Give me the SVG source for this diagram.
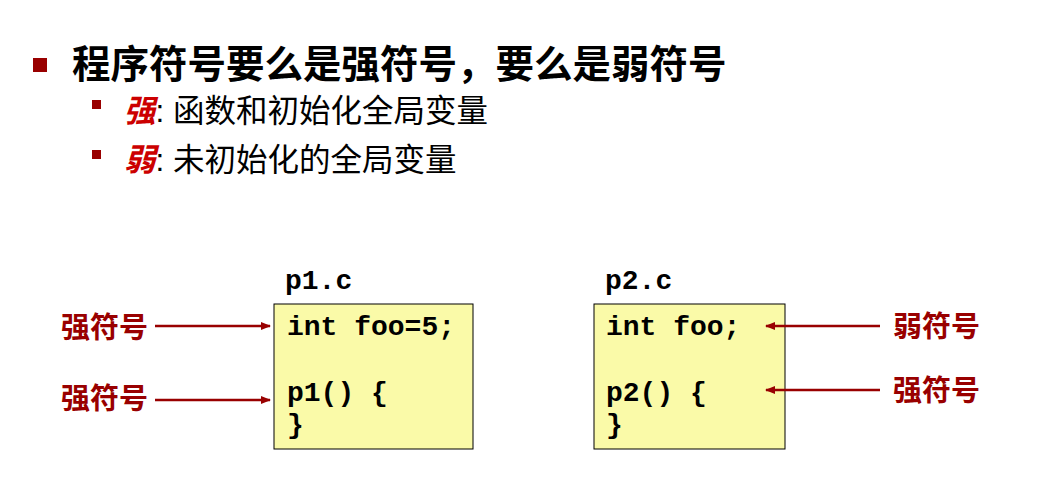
<svg xmlns="http://www.w3.org/2000/svg" width="1053" height="491" viewBox="0 0 1053 491">
<style>
.cjk{font-family:"Liberation Sans","Noto Sans CJK SC",sans-serif}
.code{font-family:"Liberation Mono",monospace;font-weight:bold;font-size:28px;fill:#000}
.lab{font-family:"Liberation Sans","Noto Sans CJK SC",sans-serif;font-weight:bold;font-size:29px;fill:#990000}
.box{fill:#fafaa8;stroke:#000;stroke-width:1}
.arr{stroke:#990000;stroke-width:2.5;fill:none;marker-end:url(#ah)}
</style>
<defs><marker id="ah" markerWidth="10" markerHeight="8" refX="9" refY="4" orient="auto" markerUnits="userSpaceOnUse"><path d="M0,0 L10,4 L0,8 z" fill="#990000"/></marker></defs>
<rect width="1053" height="491" fill="#fff"/>
<g id="text">
<rect x="33" y="58" width="14" height="14" fill="#990000"/>
<text x="72" y="78" class="cjk" font-size="38.5" font-weight="bold">程序符号要么是强符号，要么是弱符号</text>
<rect x="92" y="100" width="9" height="9" fill="#990000"/>
<text x="124" y="122" class="cjk" font-size="31.5"><tspan fill="#cc0000" font-style="italic" font-weight="bold">强</tspan>:  函数和初始化全局变量</text>
<rect x="92" y="150" width="9" height="9" fill="#990000"/>
<text x="124" y="171" class="cjk" font-size="31.5"><tspan fill="#cc0000" font-style="italic" font-weight="bold">弱</tspan>: 未初始化的全局变量</text>
</g>
<g id="p1">
<text x="285" y="289" class="code">p1.c</text>
<rect x="274" y="304" width="199" height="145" class="box"/>
<text x="287" y="335" class="code">int foo=5;</text>
<text x="287" y="401" class="code">p1() {</text>
<text x="287" y="433" class="code">}</text>
</g>
<g id="p2">
<text x="605" y="289" class="code">p2.c</text>
<rect x="594" y="304" width="191" height="145" class="box"/>
<text x="606" y="335" class="code">int foo;</text>
<text x="606" y="401" class="code">p2() {</text>
<text x="606" y="433" class="code">}</text>
</g>
<g id="labels">
<text x="61" y="338" class="lab">强符号</text>
<text x="61" y="409" class="lab">强符号</text>
<text x="893" y="337" class="lab">弱符号</text>
<text x="893" y="401" class="lab">强符号</text>
</g>
<g id="connectors">
<line x1="155" y1="326" x2="270" y2="326" class="arr"/>
<line x1="155" y1="400" x2="270" y2="400" class="arr"/>
<line x1="880" y1="326" x2="766" y2="326" class="arr"/>
<line x1="880" y1="390" x2="766" y2="390" class="arr"/>
</g>
</svg>
